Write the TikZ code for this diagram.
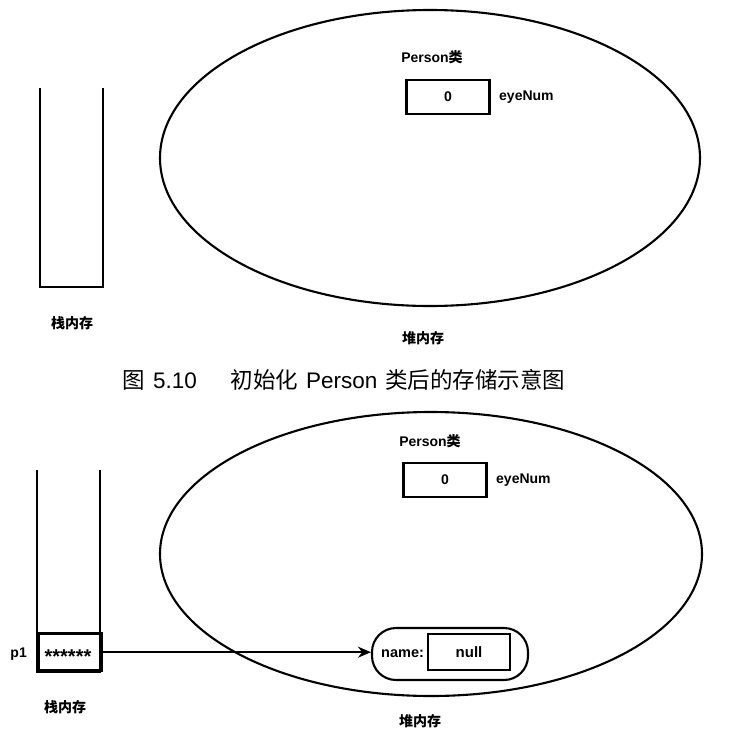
\documentclass[tikz,border=0pt]{standalone}
\usepackage{fontspec}
\setmainfont{Liberation Sans}
\newfontfamily\cjk{Noto Sans CJK SC}
\usetikzlibrary{arrows.meta}
\begin{document}
\begin{tikzpicture}[x=1pt,y=-1pt,
  wall/.style={line width=2.8pt},
  cellbox/.style={draw,line width=2.6pt,minimum width=83pt,minimum height=34pt,inner sep=0pt,font=\bfseries\fontsize{14}{14}\selectfont},
  lbl/.style={font=\bfseries\fontsize{14}{14}\selectfont,inner sep=0pt},
  cjklbl/.style={font=\cjk\bfseries\fontsize{14}{14}\selectfont,inner sep=0pt},
  heapline/.style={line width=2.1pt},
]
\useasboundingbox (0,0) rectangle (744,750);
% ---------- top diagram ----------
\draw[wall] (40,88) -- (40,287) -- (103,287) -- (103,88);
\node[cjklbl] (s1) at (72,323) {栈内存};
\draw[heapline] (430,158) ellipse [x radius=270, y radius=148];
\node[lbl] (p1cls) at (432,57) {Person{\cjk 类}};
\node[cellbox] (eye1) at (448,97) {0};
\node[lbl,anchor=west] (en1) at (499,97) {eyeNum};
\node[cjklbl] (h1) at (423,338) {堆内存};
\node[font=\fontsize{22.5}{22.5}\selectfont,inner sep=0pt] (cap) at (344,380) {{\cjk 图}\hspace{0.35em}5.10\hspace{1.5em}{\cjk 初始化}\hspace{0.35em}Person\hspace{0.35em}{\cjk 类后的存储示意图}};
% ---------- bottom diagram ----------
\draw[wall] (37,470) -- (37,672) -- (100,672) -- (100,470);
\node[draw,line width=2.6pt,minimum width=63pt,minimum height=37pt,inner sep=0pt,anchor=south west] (cell) at (37,672) {};
\node[font=\bfseries\fontsize{20}{20}\selectfont,inner sep=0pt] (stars) at (68,657) {******};
\node[lbl,anchor=east] (p1) at (27,654) {p1};
\node[cjklbl] (s2) at (65,707) {栈内存};
\draw[heapline] (431,554) ellipse [x radius=271, y radius=142];
\node[lbl] (p2cls) at (430,441) {Person{\cjk 类}};
\node[cellbox] (eye2) at (445,480) {0};
\node[lbl,anchor=west] (en2) at (496,480) {eyeNum};
\node[draw,line width=2.1pt,rounded corners=24pt,minimum width=156pt,minimum height=52pt,inner sep=0pt] (obj) at (450,654) {};
\node[font=\bfseries\fontsize{14.5}{14.5}\selectfont,inner sep=0pt,anchor=west] (nm) at (381,654) {name:};
\node[draw,line width=2.6pt,minimum width=82pt,minimum height=36pt,inner sep=0pt,font=\bfseries\fontsize{15}{15}\selectfont] (null) at (469,652) {null};
\draw[line width=2.4pt,-{Stealth[length=13pt,width=11pt]}] (cell.east) -- (obj.west |- cell.east);
\node[cjklbl] (h2) at (420,721) {堆内存};
\end{tikzpicture}
\end{document}
